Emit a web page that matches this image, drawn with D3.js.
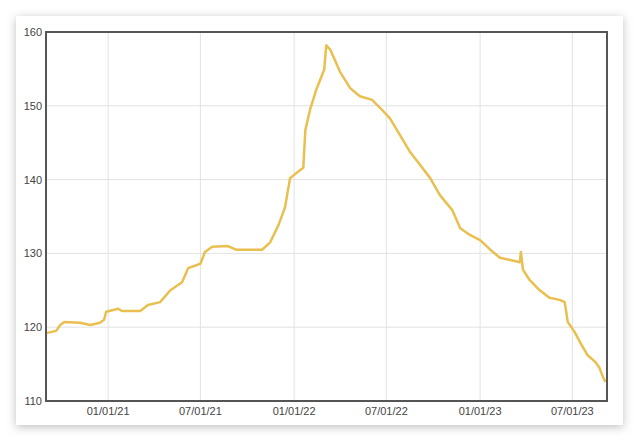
<!DOCTYPE html>
<html><head><meta charset="utf-8">
<script src="https://cdn.jsdelivr.net/npm/d3@7"></script>
<style>body{margin:0;background:#fff;}svg{display:block;font-family:"Liberation Sans",Arial,sans-serif;}</style>
</head><body><svg id="c" width="640" height="442"></svg>
<script>
const dates=["2020-09-01","2020-09-21","2020-09-29","2020-10-07","2020-11-07","2020-11-27","2020-12-16","2020-12-24","2020-12-28","2021-01-21","2021-01-28","2021-03-05","2021-03-20","2021-04-13","2021-05-03","2021-05-26","2021-06-07","2021-07-01","2021-07-10","2021-07-24","2021-08-24","2021-09-09","2021-10-07","2021-10-30","2021-11-15","2021-12-01","2021-12-14","2021-12-24","2022-01-13","2022-01-19","2022-01-23","2022-02-01","2022-02-13","2022-02-25","2022-03-01","2022-03-05","2022-03-13","2022-04-01","2022-04-21","2022-05-10","2022-06-03","2022-06-19","2022-07-08","2022-07-28","2022-08-17","2022-09-05","2022-09-25","2022-10-14","2022-11-07","2022-11-23","2022-12-12","2023-01-01","2023-01-21","2023-02-09","2023-03-01","2023-03-20","2023-03-22","2023-03-26","2023-04-08","2023-04-28","2023-05-17","2023-06-06","2023-06-16","2023-06-22","2023-07-05","2023-07-19","2023-07-31","2023-08-15","2023-08-23","2023-08-31","2023-09-04"];
const values=[119.2,119.5,120.3,120.7,120.6,120.3,120.6,121.0,122.1,122.5,122.2,122.2,123.0,123.4,125.0,126.1,128.0,128.6,130.2,130.9,131.0,130.5,130.5,130.5,131.5,133.8,136.2,140.2,141.3,141.6,146.7,149.4,152.1,154.2,154.9,158.2,157.6,154.6,152.4,151.3,150.8,149.7,148.3,146.0,143.7,142.0,140.2,137.9,135.9,133.4,132.5,131.8,130.5,129.4,129.1,128.8,130.2,127.8,126.4,125.0,124.0,123.7,123.4,120.7,119.4,117.6,116.2,115.3,114.5,113.1,112.6];
const xTicks=["2021-01-01","2021-07-01","2022-01-01","2022-07-01","2023-01-01","2023-07-01"];
const yTicks=[110,120,130,140,150,160];
const P=d3.timeParse("%Y-%m-%d"),F=d3.timeFormat("%m/%d/%y");
const data=dates.map((d,i)=>({d:P(d),v:values[i]}));
const svg=d3.select("#c");
const defs=svg.append("defs");
const f=defs.append("filter").attr("id","sh").attr("x","-10%").attr("y","-10%").attr("width","120%").attr("height","120%");
f.append("feDropShadow").attr("dx",0).attr("dy",2).attr("stdDeviation",5).attr("flood-color","#000").attr("flood-opacity",0.25);
svg.append("rect").attr("x",16).attr("y",16).attr("width",607).attr("height",409).attr("fill","#fff").attr("filter","url(#sh)");
const L=46,R=607,T=32,B=401;
const x=d3.scaleTime().domain([P("2020-09-01"),P("2023-09-07")]).range([L,R]);
const y=d3.scaleLinear().domain([110,160]).range([B,T]);
const g=svg.append("g");
g.selectAll(".gx").data(xTicks).join("line").attr("x1",d=>x(P(d))).attr("x2",d=>x(P(d))).attr("y1",T).attr("y2",B).attr("stroke","#e2e2e2");
g.selectAll(".gy").data(yTicks).join("line").attr("x1",L).attr("x2",R).attr("y1",d=>y(d)).attr("y2",d=>y(d)).attr("stroke","#e2e2e2");
g.selectAll(".tx").data(xTicks).join("text").attr("x",d=>x(P(d))).attr("y",B+14).attr("text-anchor","middle").attr("font-size",11).attr("fill","#444").text(d=>F(P(d)));
g.selectAll(".ty").data(yTicks).join("text").attr("x",L-4).attr("y",d=>y(d)+4).attr("text-anchor","end").attr("font-size",11).attr("fill","#444").text(d=>d);
svg.append("path").datum(data).attr("fill","none").attr("stroke","#e9c050").attr("stroke-width",2.5).attr("stroke-linejoin","round")
 .attr("d",d3.line().x(d=>x(d.d)).y(d=>y(d.v)));
svg.append("rect").attr("x",L).attr("y",T).attr("width",R-L).attr("height",B-T).attr("fill","none").attr("stroke","#555").attr("stroke-width",2);
</script></body></html>
